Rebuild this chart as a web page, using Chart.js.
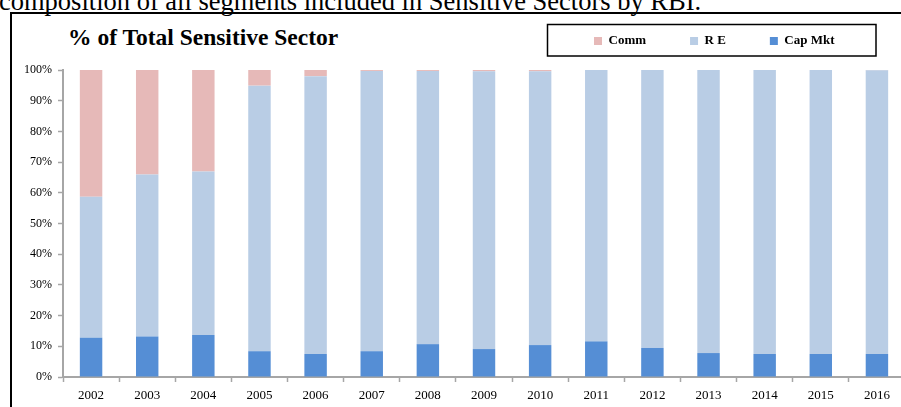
<!DOCTYPE html>
<html>
<head>
<meta charset="utf-8">
<title>% of Total Sensitive Sector</title>
<script src="https://cdn.jsdelivr.net/npm/chart.js@4/dist/chart.umd.min.js"></script>
<style>
    html, body {
        margin: 0;
        padding: 0;
        width: 901px;
        height: 407px;
        overflow: hidden;
        background: #fff;
    }
    #caption {
        position: absolute;
        left: -1px;
        top: -12px;
        font-family: "Liberation Serif", serif;
        font-size: 26.5px;
        line-height: 27px;
        white-space: nowrap;
        color: #000;
    }
    #frame {
        position: absolute;
        left: 10px;
        top: 12px;
        width: 1000px;
        height: 600px;
        border-top: 2px solid #000;
        border-left: 2px solid #000;
    }
    #title {
        position: absolute;
        left: 68px;
        top: 24px;
        font-family: "Liberation Serif", serif;
        font-weight: bold;
        font-size: 23.5px;
        line-height: 27px;
        white-space: nowrap;
        color: #000;
    }
    #myChart {
        position: absolute;
        left: 0;
        top: 0;
    }
</style>
</head>
<body>
<div id="caption">composition of all segments included in Sensitive Sectors by RBI.</div>
<div id="frame"></div>
<div id="title">% of Total Sensitive Sector</div>
<canvas id="myChart" width="920" height="407"></canvas>
<script>
// values, in % of the total sensitive sector
var years = ["2002", "2003", "2004", "2005", "2006", "2007", "2008", "2009",
    "2010", "2011", "2012", "2013", "2014", "2015", "2016"];
var capMkt = [12.8, 13.2, 13.7, 8.4, 7.5, 8.4, 10.7, 9.1, 10.4, 11.6, 9.5, 7.8, 7.5, 7.5, 7.5];
var realEstate = [45.9, 52.8, 53.2, 86.5, 90.5, 91.3, 89.0, 90.5, 89.2, 88.4, 90.5, 92.2, 92.5, 92.5, 92.4];
var comm = [41.3, 34.0, 33.1, 5.1, 2.0, 0.3, 0.3, 0.4, 0.4, 0, 0, 0, 0, 0, 0.1];

var axisGrey = '#a6a6a6';
var serif = 'Liberation Serif';

// moves the legend next to the title and draws the box round it
var legendBox = {
    id: 'legendBox',
    afterLayout: function (chart) {
        chart.legend.left = 550;
        chart.legend.top -= 12.5;
    },
    afterDraw: function (chart) {
        var ctx = chart.ctx;
        ctx.save();
        ctx.strokeStyle = '#000';
        ctx.lineWidth = 1.5;
        ctx.strokeRect(547.5, 24.5, 328.5, 31.5);
        ctx.restore();
    }
};

var ctx = document.getElementById("myChart");
var myChart = new Chart(ctx, {
    type: 'bar',
    plugins: [legendBox],
    data: {
        labels: years,
        datasets: [{
            label: "Cap Mkt",
            data: capMkt,
            backgroundColor: '#558ed5'
        }, {
            label: "R E",
            data: realEstate,
            backgroundColor: '#b9cde5'
        }, {
            label: "Comm",
            data: comm,
            backgroundColor: '#e6b9b8'
        }]
    },
    options: {
        responsive: false,
        animation: false,
        layout: {
            padding: {left: 0, right: 15, top: 3, bottom: 0}
        },
        datasets: {
            bar: {
                categoryPercentage: 1,
                barPercentage: 0.4,
                borderWidth: 0
            }
        },
        plugins: {
            title: {display: false},
            tooltip: {enabled: false},
            legend: {
                display: true,
                position: 'top',
                align: 'start',
                reverse: true,
                labels: {
                    boxWidth: 8,
                    boxHeight: 8,
                    padding: 44,
                    color: '#000',
                    font: {family: serif, size: 13, weight: 'bold'}
                }
            }
        },
        scales: {
            x: {
                stacked: true,
                afterFit: function (scale) {
                    scale.height = 30;
                },
                grid: {
                    drawOnChartArea: false,
                    drawTicks: true,
                    tickLength: 5,
                    tickColor: axisGrey,
                    tickWidth: 1.5
                },
                border: {color: axisGrey, width: 2},
                ticks: {
                    color: '#000',
                    padding: 6,
                    maxRotation: 0,
                    font: {family: serif, size: 13}
                }
            },
            y: {
                stacked: true,
                min: 0,
                max: 100,
                afterFit: function (scale) {
                    scale.width = 63;
                },
                grid: {
                    drawOnChartArea: false,
                    drawTicks: true,
                    tickLength: 5,
                    tickColor: axisGrey,
                    tickWidth: 1.5
                },
                border: {color: axisGrey, width: 2},
                ticks: {
                    stepSize: 10,
                    color: '#000',
                    padding: 6,
                    font: {family: serif, size: 12},
                    callback: function (value) {
                        return value + '%';
                    }
                }
            }
        }
    }
});
</script>
</body>
</html>
